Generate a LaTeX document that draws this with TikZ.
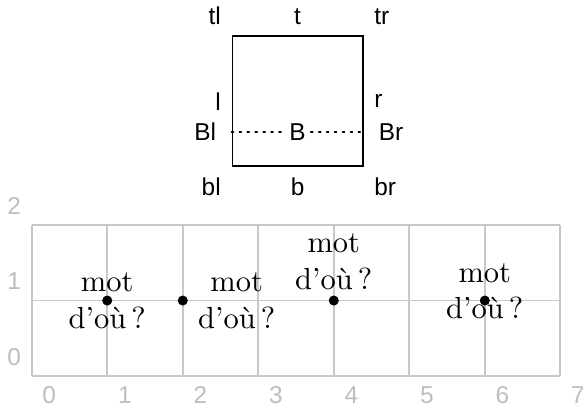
\documentclass[tikz,border=0pt]{standalone}
\usepackage{fontspec}
\setsansfont{Liberation Sans}
\usepackage{tikz}
\usetikzlibrary{positioning}
\definecolor{gridgray}{HTML}{C8C8C8}
\definecolor{numgray}{HTML}{BDBDBD}
\tikzset{
  anchorlbl/.style={font=\footnotesize\sffamily},
  gridnum/.style={font=\footnotesize\sffamily, text=numgray},
  word/.style={align=center},
  dot/.style={circle, fill=black, inner sep=0pt, minimum size=3.3pt}
}

\begin{document}
\begin{tikzpicture}[x=0.87cm,y=0.87cm]
  \useasboundingbox (-0.42,-0.44) rectangle (7.30,4.98);
  % square with its anchor names
  \node[draw, semithick, minimum size=1.5cm, label distance=1.5pt,
        label={[anchorlbl]north west:tl}, label={[anchorlbl]above:t},
        label={[anchorlbl]north east:tr}, label={[anchorlbl]left:l},
        label={[anchorlbl]right:r}, label={[anchorlbl]south west:bl},
        label={[anchorlbl]below:b}, label={[anchorlbl]south east:br}]
        (sq) at (3.52,3.64) {};
  \coordinate (bw) at ([yshift=-10pt]sq.west);
  \coordinate (be) at ([yshift=-10pt]sq.east);
  \draw[semithick, dotted, line cap=round] (bw) -- (be);
  \node[anchorlbl, fill=white, inner sep=1pt] (B) at ([yshift=-10pt]sq.center) {B};
  \node[anchorlbl, anchor=east, xshift=-1.5pt] (Bl) at (bw) {Bl};
  \node[anchorlbl, anchor=west, xshift=1.5pt] (Br) at (be) {Br};

  % grid
  \draw[gridgray, semithick, step=0.87cm] (0,0) grid (7,2);
  \foreach \x in {0,...,7}
    \node[gridnum, anchor=north west] (x\x) at (\x,0) {\x};
  \foreach \y in {0,1,2}
    \node[gridnum, anchor=south east] (y\y) at (0,\y) {\y};

  % words and points
  \coordinate (c1) at (1,1);
  \coordinate (c2) at (2,1);
  \coordinate (c3) at (4,1);
  \coordinate (c4) at (6,1);
  \node[word] (w1) at (c1) {mot\\d'où\,?};
  \node[word, anchor=west, xshift=1.5pt] (w2) at (c2) {mot\\d'où\,?};
  \node[word, anchor=south] (w3) at (c3) {mot\\d'où\,?};
  \node[word, yshift=3pt] (w4) at (c4) {mot\\d'où\,?};
  \foreach \i in {1,...,4}
    \node[dot] (d\i) at (c\i) {};
\end{tikzpicture}
\end{document}
